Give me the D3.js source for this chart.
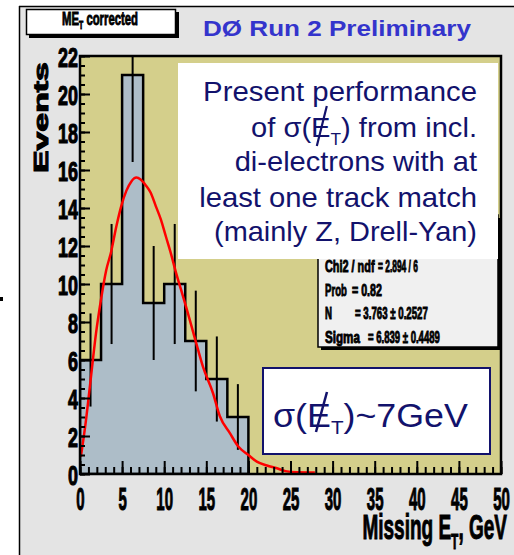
<!DOCTYPE html>
<html><head><meta charset="utf-8">
<script src="https://cdn.jsdelivr.net/npm/d3@7"></script>
<style>html,body{margin:0;padding:0;background:#fff;} svg{display:block}</style>
</head><body>
<svg id="c" width="514" height="555"></svg>
<script>
// Missing E_T histogram, 2.5 GeV bins
const binLow = [0, 2.5, 5, 7.5, 10, 12.5, 15, 17.5];
const binWidth = 2.5;
const counts = [6, 10, 21, 9, 10, 7, 5, 3];
const errors = [2.45, 3.16, 4.58, 3.0, 3.16, 2.65, 2.24, 1.73];

// Fitted curve, sampled points (GeV, events)
const fitX = [0.1, 0.7, 1.3, 1.9, 2.5, 3.1, 3.7, 4.3, 4.9, 5.5, 6.1, 6.7, 7.2, 7.8, 8.4, 9.0, 9.6, 10.2, 10.8, 11.4, 12.0, 12.6, 13.7, 14.6, 15.8, 16.6, 17.8, 18.8, 20.0, 21.0, 22.2, 23.4, 24.4, 25.7, 27.9];
const fitY = [0.9, 2.8, 5.1, 7.4, 9.2, 10.7, 11.7, 13.0, 14.1, 14.9, 15.4, 15.6, 15.5, 15.2, 14.8, 14.1, 13.4, 12.5, 11.6, 10.6, 9.7, 8.8, 7.05, 5.65, 4.25, 3.05, 2.15, 1.45, 1.0, 0.65, 0.45, 0.3, 0.15, 0.09, 0.08];

const xTicks = [0, 5, 10, 15, 20, 25, 30, 35, 40, 45, 50];
const yTicks = [0, 2, 4, 6, 8, 10, 12, 14, 16, 18, 20, 22];

const statNames = ["Chi2 / ndf", "Prob", "N", "Sigma"];
const statValues = ["= 2.894 / 6", "= 0.82", "= 3.763 \u00b1 0.2527", "= 6.839 \u00b1 0.4489"];

const noteLines = ["Present performance", null, "di-electrons with at", "least one track match", "(mainly Z, Drell-Yan)"];

// ---------------------------------------------------------------
const W = 514, H = 555;
const FONT = "'Liberation Sans', Arial, sans-serif";
const NAVY = "#12126c";
const svg = d3.select("#c");

const frame = {left: 80, right: 501, top: 56, bottom: 474};
const x = d3.scaleLinear().domain([0, 50]).range([frame.left, frame.right]);
const y = d3.scaleLinear().domain([0, 22]).range([frame.bottom, frame.top]);

// text helper: draws text, then squeezes/stretches it horizontally to a given width
function fitText(parent, px, py, anchor, width, build) {
  const g = parent.append("g").attr("transform", `translate(${px},${py})`);
  const s = g.append("g");
  const t = s.append("text").attr("text-anchor", anchor).attr("font-family", FONT);
  build(t);
  const bw = t.node().getBBox().width;
  const sx = width / bw;
  s.attr("transform", `scale(${sx},1)`);
  return {g, s, t, sx};
}

// page background and border
svg.append("rect").attr("width", W).attr("height", H).attr("fill", "#fff");
svg.append("rect").attr("x", 20).attr("y", 6).attr("width", W - 20).attr("height", H - 6).attr("fill", "#e4e4e4");
svg.append("line").attr("x1", 19.5).attr("y1", 6).attr("x2", 19.5).attr("y2", H).attr("stroke", "#000").attr("stroke-width", 1.5);
svg.append("line").attr("x1", 19).attr("y1", 6.5).attr("x2", W).attr("y2", 6.5).attr("stroke", "#000").attr("stroke-width", 1.5);
svg.append("rect").attr("x", 0).attr("y", 297).attr("width", 3).attr("height", 4).attr("fill", "#000");

// histogram title box
svg.append("rect").attr("x", 29).attr("y", 12).attr("width", 150).attr("height", 26).attr("fill", "#000");
svg.append("rect").attr("x", 26.5).attr("y", 9.5).attr("width", 149).attr("height", 25)
  .attr("fill", "#fff").attr("stroke", "#000").attr("stroke-width", 1.5);
fitText(svg, 100, 25, "middle", 76, t => {
  t.attr("font-size", 18).attr("font-weight", "bold").attr("fill", "#000").attr("stroke", "#000").attr("stroke-width", 0.9);
  t.append("tspan").text("ME");
  t.append("tspan").attr("font-size", 11).attr("dy", 4).text("T");
  t.append("tspan").attr("dy", -4).text(" corrected");
});

// experiment label
fitText(svg, 203, 36, "start", 269, t => {
  t.attr("font-size", 22).attr("font-weight", "bold").attr("fill", "#3434cc").text("D\u00d8 Run 2 Preliminary");
});

// plot frame fill
svg.append("clipPath").attr("id", "plotClip").append("rect")
  .attr("x", frame.left).attr("y", frame.top)
  .attr("width", frame.right - frame.left).attr("height", frame.bottom - frame.top);
svg.append("rect").attr("x", frame.left).attr("y", frame.top)
  .attr("width", frame.right - frame.left).attr("height", frame.bottom - frame.top)
  .attr("fill", "#d4cf8b");

const plot = svg.append("g").attr("clip-path", "url(#plotClip)");

// histogram bars
const histPts = binLow.map((b, i) => ({x: b, y: counts[i]}))
  .concat([{x: binLow[binLow.length - 1] + binWidth, y: counts[counts.length - 1]}]);
const area = d3.area().x(d => x(d.x)).y0(y(0)).y1(d => y(d.y)).curve(d3.curveStepAfter);
plot.append("path").datum(histPts).attr("d", area)
  .attr("fill", "#adbdc8").attr("stroke", "#000").attr("stroke-width", 2.5).attr("stroke-linejoin", "miter");

// error bars
plot.selectAll("line.err").data(binLow).join("line").attr("class", "err")
  .attr("x1", (b) => x(b + binWidth / 2)).attr("x2", (b) => x(b + binWidth / 2))
  .attr("y1", (b, i) => y(counts[i] - errors[i])).attr("y2", (b, i) => y(counts[i] + errors[i]))
  .attr("stroke", "#000").attr("stroke-width", 2);

// fit curve
const fitPts = fitX.map((v, i) => [v, fitY[i]]);
plot.append("path").datum(fitPts)
  .attr("d", d3.line().x(d => x(d[0])).y(d => y(d[1])).curve(d3.curveMonotoneX))
  .attr("fill", "none").attr("stroke", "#ff0000").attr("stroke-width", 2.5);

// axes: minor ticks
const gyMinor = svg.append("g").attr("transform", `translate(${frame.left},0)`)
  .call(d3.axisLeft(y).ticks(44).tickSize(-5).tickFormat(""));
const gxMinor = svg.append("g").attr("transform", `translate(0,${frame.bottom})`)
  .call(d3.axisBottom(x).ticks(50).tickSize(-7).tickFormat(""));
[gyMinor, gxMinor].forEach(g => {
  g.select(".domain").remove();
  g.selectAll("line").attr("stroke", "#000").attr("stroke-width", 2);
});

// axes: major ticks with labels
const gy = svg.append("g").attr("transform", `translate(${frame.left},0)`)
  .call(d3.axisLeft(y).tickValues(yTicks).tickSize(-10).tickPadding(2).tickFormat(d3.format("d")));
const gx = svg.append("g").attr("transform", `translate(0,${frame.bottom})`)
  .call(d3.axisBottom(x).tickValues(xTicks).tickSize(-13).tickPadding(2).tickFormat(d3.format("d")));
[gy, gx].forEach(g => {
  g.select(".domain").remove();
  g.selectAll("line").attr("stroke", "#000").attr("stroke-width", 2);
  g.selectAll("text").attr("font-family", FONT).attr("font-weight", "bold")
    .attr("fill", "#000").attr("stroke", "#000").attr("stroke-width", 1.1);
});

gy.selectAll("text").attr("font-size", 28);
const wy = gy.selectAll("text").filter(d => d === 22).node().getBBox().width;
const sxY = 20 / wy;
gy.selectAll("text").attr("text-anchor", "end").attr("x", -2 / sxY).attr("dy", "0.39em")
  .attr("transform", `scale(${sxY},1)`);

gx.selectAll("text").attr("font-size", 32);
const wx = gx.selectAll("text").filter(d => d === 10).node().getBBox().width;
const sxX = 16.7 / wx;
gx.selectAll("text").attr("text-anchor", "middle").attr("x", 0).attr("y", 36.5).attr("dy", 0)
  .attr("transform", `scale(${sxX},1)`);

// frame border
svg.append("rect").attr("x", frame.left).attr("y", frame.top)
  .attr("width", frame.right - frame.left).attr("height", frame.bottom - frame.top)
  .attr("fill", "none").attr("stroke", "#000").attr("stroke-width", 2.5);

// axis titles
const yTitle = svg.append("g").attr("transform", "translate(47.5,173) rotate(-90)");
fitText(yTitle, 0, 0, "start", 111, t => {
  t.attr("font-size", 20).attr("font-weight", "bold").attr("fill", "#000")
    .attr("stroke", "#000").attr("stroke-width", 1).text("Events");
});
fitText(svg, 507, 539, "end", 145, t => {
  t.attr("font-size", 35).attr("font-weight", "bold").attr("fill", "#000")
    .attr("stroke", "#000").attr("stroke-width", 1);
  t.append("tspan").text("Missing E");
  t.append("tspan").attr("font-size", 22).attr("dy", 10).text("T");
  t.append("tspan").attr("dy", -10).text(", GeV");
});

// fit statistics box
const st = {x: 318, y: 215, w: 180, h: 132};
svg.append("rect").attr("x", st.x + 3).attr("y", st.y + 3).attr("width", st.w).attr("height", st.h).attr("fill", "#000");
svg.append("rect").attr("x", st.x).attr("y", st.y).attr("width", st.w).attr("height", st.h)
  .attr("fill", "#f0f0f0").attr("stroke", "#000").attr("stroke-width", 1.5);
const statLayout = [
  {base: 272, nameW: 50, valX: 378, valW: 40},
  {base: 295.5, nameW: 22, valX: 352, valW: 30},
  {base: 319, nameW: 7, valX: 355, valW: 73},
  {base: 343, nameW: 35, valX: 368, valW: 72}
];
statNames.forEach((n, i) => {
  const L = statLayout[i];
  const style = t => t.attr("font-size", 16).attr("font-weight", "bold").attr("fill", "#000")
    .attr("stroke", "#000").attr("stroke-width", 0.9);
  fitText(svg, 325, L.base, "start", L.nameW, t => { style(t); t.text(n); });
  fitText(svg, L.valX, L.base, "start", L.valW, t => { style(t); t.text(statValues[i]); });
});

// slashed E (missing E_T): a stroke drawn through the E glyph
function slashE(obj, charIndex, dxTop, yTop, dxBot, yBot, sw) {
  const ext = obj.t.node().getExtentOfChar(charIndex);
  const cx = (ext.x + ext.width / 2) * obj.sx;
  obj.g.append("line")
    .attr("x1", cx + dxTop).attr("y1", yTop)
    .attr("x2", cx + dxBot).attr("y2", yBot)
    .attr("stroke", NAVY).attr("stroke-width", sw).attr("stroke-linecap", "butt");
}

// note box
svg.append("rect").attr("x", 178).attr("y", 63).attr("width", 320).attr("height", 196).attr("fill", "#fff");
const noteBase = [101, 137, 171, 207, 241];
const noteW = [274, 226, 243, 278, 263];
noteLines.forEach((line, i) => {
  const o = fitText(svg, 477, noteBase[i], "end", noteW[i], t => {
    t.attr("font-size", 27).attr("fill", NAVY);
    if (line !== null) { t.text(line); return; }
    t.append("tspan").text("of \u03c3(");
    t.append("tspan").text("E");
    t.append("tspan").attr("font-size", 16).attr("dy", 8).text("T");
    t.append("tspan").attr("dy", -8).text(") from incl.");
  });
  if (line === null) slashE(o, 5, 6, -31, -4, 9, 2.2);
});

// resolution box
svg.append("rect").attr("x", 263).attr("y", 368).attr("width", 227).attr("height", 86)
  .attr("fill", "#fff").attr("stroke", NAVY).attr("stroke-width", 2);
const sig = fitText(svg, 273, 427, "start", 195, t => {
  t.attr("font-size", 33).attr("fill", NAVY);
  t.append("tspan").text("\u03c3(");
  t.append("tspan").text("E");
  t.append("tspan").attr("font-size", 19).attr("dy", 7).text("T");
  t.append("tspan").attr("dy", -7).text(")~7GeV");
});
slashE(sig, 2, 8, -35, -3, 5, 2.5);
</script>
</body></html>
